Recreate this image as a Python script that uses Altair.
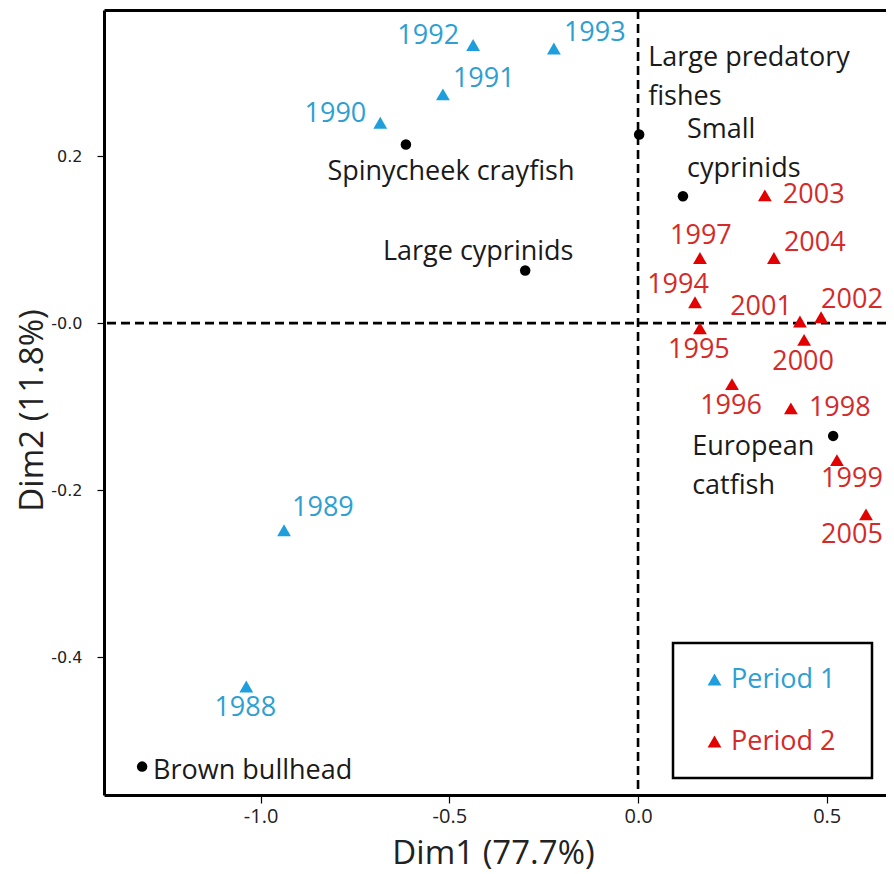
import altair as alt
import pandas as pd

# ---------------- data ----------------
p1_years = ["1988", "1989", "1990", "1991", "1992", "1993"]
p1_dim1 = [-1.038, -0.938, -0.683, -0.517, -0.437, -0.223]
p1_dim2 = [-0.435, -0.248, 0.240, 0.274, 0.333, 0.329]
p1_place = ["below", "right_up_high", "left_up", "right_up", "left_up", "right_up"]

p2_years = ["1994", "1995", "1996", "1997", "1998", "1999",
            "2000", "2001", "2002", "2003", "2004", "2005"]
p2_dim1 = [0.151, 0.164, 0.249, 0.164, 0.405, 0.527,
           0.440, 0.429, 0.485, 0.336, 0.360, 0.604]
p2_dim2 = [0.025, -0.006, -0.073, 0.078, -0.102, -0.164,
           -0.020, 0.002, 0.007, 0.153, 0.078, -0.229]
p2_place = ["above_left", "below", "below", "above", "right", "below_right",
            "below", "upper_left", "up_right", "right", "right_up", "below_left"]

species = ["Brown bullhead", "Spinycheek crayfish", "Large cyprinids",
           "Large predatory\nfishes", "Small\ncyprinids", "European\ncatfish"]
sp_dim1 = [-1.314, -0.615, -0.299, 0.003, 0.119, 0.517]
sp_dim2 = [-0.531, 0.214, 0.063, 0.226, 0.152, -0.135]
sp_place = ["sp_right", "sp_below", "sp_above", "sp_up_a", "sp_up_b", "sp_left"]

periods = ["Period 1", "Period 2"]
x_ticks = [-1.0, -0.5, 0.0, 0.5]
y_ticks = [0.2, 0.0, -0.2, -0.4]
x_title = "Dim1 (77.7%)"
y_title = "Dim2 (11.8%)"

# ---------------- styles ----------------
FONT = "Open Sans"
LABEL_SIZE = 27
tri_colors = ["#1e9fdc", "#e30000"]
txt_colors = ["#2e9fd2", "#d42a2a"]

# label placement presets: (align, dx, dy)  -- multi-line: dy is for the first line
placements = {
    "below": ("center", -1, 22),
    "below_right": ("center", 15, 19),
    "below_left": ("center", -14, 21),
    "above": ("center", 1, -22),
    "above_left": ("center", -17, -17),
    "upper_left": ("right", -8, -14),
    "left_up": ("right", -14, -9),
    "right_up": ("left", 10, -15),
    "right_up_high": ("left", 8, -22),
    "up_right": ("left", 0, -17),
    "right": ("left", 18, 0),
    "sp_right": ("left", 11, 4),
    "sp_below": ("center", 45, 28),
    "sp_above": ("center", -47, -19),
    "sp_up_a": ("left", 9, -76),
    "sp_up_b": ("left", 4, -66),
    "sp_left": ("left", -141, 11),
}

years_df = pd.DataFrame({
    "year": p1_years + p2_years,
    "dim1": p1_dim1 + p2_dim1,
    "dim2": p1_dim2 + p2_dim2,
    "period": [periods[0]] * len(p1_years) + [periods[1]] * len(p2_years),
    "place": p1_place + p2_place,
})
species_df = pd.DataFrame({
    "name": species, "dim1": sp_dim1, "dim2": sp_dim2, "place": sp_place,
})

xs = alt.Scale(domain=[-1.415, 0.657], nice=False, zero=False)
ys = alt.Scale(domain=[-0.565, 0.375], nice=False, zero=False)

x_lab = "datum.value < 0 ? '-' + format(abs(datum.value), '.1f') : format(datum.value, '.1f')"
y_lab = "datum.value <= 0 ? '-' + format(abs(datum.value), '.1f') : format(datum.value, '.1f')"

x_axis = alt.Axis(values=x_ticks, labelExpr=x_lab, title=x_title, tickSize=8,
                  labelPadding=3, labelFont=FONT, labelFontSize=20,
                  titleX=389, titleY=58, titleBaseline="middle", titleAlign="center")
y_axis = alt.Axis(values=y_ticks, labelExpr=y_lab, title=y_title, tickSize=7,
                  labelPadding=15, labelFont="DejaVu Sans", labelFontSize=16,
                  titleAngle=270, titleX=-72, titleY=400,
                  titleBaseline="middle", titleAlign="center")
top_axis = alt.Axis(orient="top", labels=False, ticks=False, title=None)


def X(field):
    return alt.X(field, scale=xs, axis=None)


def Y(field):
    return alt.Y(field, scale=ys, axis=y_axis)


zero_df = pd.DataFrame({"v": [0.0]})
vrule = alt.Chart(zero_df).mark_rule(strokeDash=[9, 5], strokeWidth=2.6, color="black").encode(
    x=alt.X("v:Q", scale=xs, axis=top_axis))
hrule = alt.Chart(zero_df).mark_rule(strokeDash=[9, 5], strokeWidth=2.6, color="black").encode(
    y=Y("v:Q"))

dots = alt.Chart(species_df).mark_circle(size=110, color="black", opacity=1).encode(
    x=X("dim1:Q"), y=Y("dim2:Q"))

legend = alt.Legend(
    orient="none", legendX=569, legendY=633, title=None,
    strokeColor="black", fillColor="white", padding=23,
    symbolType="triangle-up", symbolSize=190, symbolOffset=5,
    labelOffset=3, rowPadding=34, labelFont=FONT, labelFontSize=LABEL_SIZE,
    labelExpr="datum.label + '\u2002\u200b'",
    labelColor=alt.ExprRef(f"datum.label == '{periods[0]}' ? '{txt_colors[0]}' : '{txt_colors[1]}'"),
)

tris = alt.Chart(years_df).mark_point(shape="triangle-up", filled=True, size=190, opacity=1).encode(
    x=alt.X("dim1:Q", scale=xs, axis=x_axis),
    y=Y("dim2:Q"),
    color=alt.Color("period:N", scale=alt.Scale(domain=periods, range=tri_colors), legend=legend))

layers = [vrule, hrule, dots, tris]

for name in dict.fromkeys(p1_place + p2_place):
    align, dx, dy = placements[name]
    layers.append(
        alt.Chart(years_df).transform_filter(alt.datum.place == name)
        .mark_text(align=align, dx=dx, dy=dy, baseline="middle", font=FONT, fontSize=LABEL_SIZE)
        .encode(x=X("dim1:Q"), y=Y("dim2:Q"), text="year:N",
                color=alt.Color("period:N", scale=alt.Scale(domain=periods, range=txt_colors), legend=None)))

for name in dict.fromkeys(sp_place):
    align, dx, dy = placements[name]
    layers.append(
        alt.Chart(species_df).transform_filter(alt.datum.place == name)
        .mark_text(align=align, dx=dx, dy=dy, baseline="middle", font=FONT, fontSize=LABEL_SIZE,
                   lineBreak="\n", lineHeight=39, color="#1a1a1a")
        .encode(x=X("dim1:Q"), y=Y("dim2:Q"), text="name:N"))

chart = alt.layer(*layers).resolve_scale(color="independent").resolve_axis(x="independent").properties(
    width=782, height=785,
    autosize=alt.AutoSizeParams(type="none"),
    padding={"left": 96, "top": 2, "right": 0, "bottom": 78},
).configure_view(stroke=None).configure_axis(
    grid=False, domainColor="black", domainWidth=3, tickColor="black", tickWidth=1.2,
    labelColor="#222222", titleFont=FONT, titleFontSize=33, titleFontWeight="normal",
    titleColor="#222222",
).configure_legend(strokeWidth=2.5)

chart.save("out.html", embed_options={"renderer": "svg", "actions": False})
